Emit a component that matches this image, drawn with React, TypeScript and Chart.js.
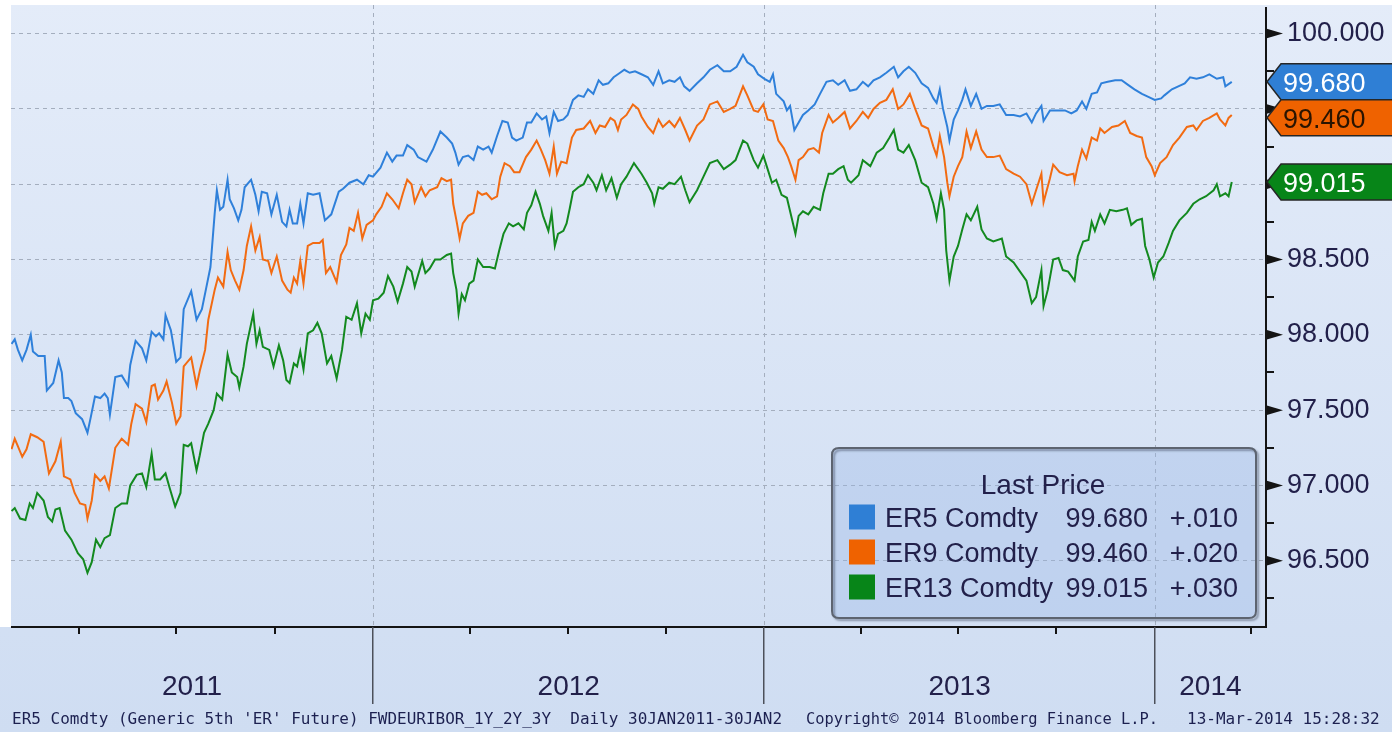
import React, { useEffect, useRef } from "react";
import { Chart, registerables } from "chart.js";

Chart.register(...registerables);

// x values are days counted from 1 Jan 2011 (day 0 = 2011-01-01)
const er5Days = [27,30,33,37,41,45,47,52,58,60,66,71,74,76,80,83,87,93,98,101,105,110,114,117,119,124,130,136,138,143,149,153,158,162,165,169,171,176,181,185,188,195,200,205,209,213,217,219,222,225,229,231,235,239,242,245,251,255,258,261,266,270,275,280,284,287,290,294,297,300,304,309,315,320,326,333,337,343,350,356,361,365,372,378,383,387,393,397,403,407,415,421,428,434,439,442,445,449,454,459,463,468,473,476,481,486,491,495,499,505,509,513,518,523,527,530,534,538,543,547,552,557,562,566,571,576,580,585,590,596,600,605,610,616,622,627,632,636,642,647,652,656,661,668,674,680,687,693,699,705,711,715,721,725,731,736,739,742,749,752,755,759,763,767,772,778,783,789,795,800,806,811,817,823,828,833,839,845,852,856,861,866,872,878,884,889,892,895,898,902,904,908,912,916,919,924,929,934,939,945,951,957,964,970,976,981,985,990,992,998,1004,1012,1018,1023,1028,1032,1037,1042,1046,1052,1059,1065,1071,1077,1084,1090,1096,1102,1105,1112,1118,1124,1129,1135,1141,1147,1154,1160,1162,1168];
const er5Values = [97.94,97.97,97.90,97.83,97.90,98.00,97.89,97.86,97.86,97.63,97.68,97.83,97.75,97.58,97.58,97.56,97.48,97.44,97.35,97.45,97.59,97.58,97.61,97.58,97.47,97.72,97.73,97.66,97.80,97.96,97.91,97.83,98.02,97.99,98.01,97.97,98.13,98.03,97.82,97.85,98.17,98.29,98.10,98.17,98.31,98.45,98.81,98.96,98.83,98.85,99.03,98.90,98.84,98.76,98.83,98.98,99.03,98.93,98.82,98.95,98.94,98.80,98.93,98.75,98.72,98.83,98.74,98.74,98.87,98.74,98.94,98.93,98.94,98.76,98.80,98.95,98.97,99.01,99.03,99.00,99.06,99.05,99.11,99.21,99.15,99.19,99.19,99.26,99.23,99.18,99.15,99.23,99.35,99.31,99.27,99.21,99.13,99.18,99.19,99.16,99.25,99.23,99.25,99.21,99.32,99.42,99.41,99.31,99.29,99.31,99.41,99.41,99.47,99.43,99.45,99.34,99.48,99.42,99.43,99.46,99.56,99.59,99.58,99.63,99.60,99.69,99.66,99.67,99.71,99.74,99.76,99.74,99.75,99.73,99.71,99.66,99.75,99.67,99.69,99.68,99.71,99.65,99.62,99.67,99.71,99.76,99.79,99.75,99.75,99.78,99.86,99.81,99.78,99.73,99.70,99.68,99.73,99.60,99.55,99.49,99.52,99.36,99.41,99.46,99.49,99.53,99.60,99.68,99.69,99.66,99.69,99.62,99.63,99.68,99.65,99.69,99.71,99.74,99.78,99.71,99.75,99.78,99.74,99.67,99.64,99.57,99.54,99.63,99.50,99.38,99.29,99.43,99.49,99.56,99.63,99.52,99.60,99.50,99.52,99.52,99.53,99.46,99.46,99.45,99.47,99.41,99.47,99.52,99.42,99.49,99.49,99.49,99.47,99.49,99.55,99.50,99.60,99.61,99.67,99.68,99.69,99.69,99.66,99.63,99.60,99.58,99.56,99.57,99.59,99.63,99.65,99.67,99.71,99.70,99.71,99.73,99.70,99.71,99.65,99.68];

const er9Days = [27,30,33,37,41,45,51,57,62,68,73,76,82,86,91,96,98,102,105,110,114,118,124,130,136,139,143,149,153,158,161,164,169,172,177,181,185,188,195,200,203,208,211,217,220,225,229,232,236,240,244,247,251,255,259,262,267,270,275,280,285,288,291,294,297,300,304,309,315,318,321,325,331,335,340,343,347,351,355,359,365,368,373,378,383,389,393,397,401,404,410,414,418,425,429,434,438,440,443,446,449,454,459,463,467,471,476,481,484,488,493,497,502,508,513,518,522,526,530,534,537,541,546,551,555,562,568,573,577,582,587,591,594,597,602,608,613,616,622,627,632,636,642,647,652,657,661,668,674,680,687,693,699,704,711,715,721,725,730,734,739,744,749,753,756,760,763,767,772,777,782,785,791,795,800,806,811,817,823,828,833,839,845,851,856,861,867,872,878,884,889,892,895,899,902,904,908,912,916,920,924,929,934,939,945,951,957,964,970,976,981,985,990,992,998,1001,1007,1014,1020,1021,1024,1028,1032,1037,1042,1045,1049,1056,1062,1068,1073,1079,1084,1088,1093,1096,1101,1107,1113,1119,1126,1132,1135,1141,1147,1154,1157,1162,1165,1168];
const er9Values = [97.24,97.31,97.26,97.19,97.24,97.34,97.32,97.29,97.08,97.16,97.29,97.06,97.04,96.95,96.88,96.87,96.78,96.90,97.07,97.03,97.06,96.98,97.25,97.31,97.27,97.41,97.54,97.51,97.42,97.66,97.67,97.57,97.63,97.69,97.55,97.41,97.46,97.79,97.85,97.66,97.76,97.90,98.10,98.30,98.38,98.32,98.55,98.43,98.36,98.30,98.43,98.59,98.72,98.56,98.65,98.50,98.49,98.41,98.52,98.36,98.30,98.28,98.38,98.34,98.49,98.34,98.59,98.61,98.61,98.63,98.41,98.45,98.35,98.53,98.60,98.71,98.69,98.81,98.64,98.73,98.76,98.80,98.85,98.94,98.90,98.84,98.94,99.03,99.00,98.88,98.98,98.92,98.96,98.98,99.04,99.02,99.03,98.87,98.76,98.64,98.74,98.79,98.81,98.95,98.93,98.94,98.90,98.92,99.05,99.14,99.12,99.08,99.08,99.18,99.23,99.29,99.23,99.16,99.07,99.25,99.07,99.15,99.14,99.31,99.36,99.37,99.42,99.34,99.39,99.38,99.44,99.42,99.36,99.43,99.46,99.53,99.50,99.45,99.38,99.34,99.43,99.38,99.42,99.38,99.44,99.36,99.29,99.39,99.43,99.53,99.55,99.48,99.50,99.52,99.65,99.59,99.49,99.48,99.53,99.43,99.42,99.29,99.24,99.18,99.12,99.03,99.16,99.18,99.23,99.24,99.21,99.34,99.46,99.41,99.44,99.48,99.37,99.42,99.48,99.44,99.50,99.54,99.56,99.63,99.50,99.53,99.60,99.50,99.39,99.37,99.25,99.19,99.32,99.18,99.01,98.92,99.05,99.12,99.18,99.35,99.24,99.35,99.23,99.18,99.18,99.19,99.10,99.07,99.05,99.00,98.87,98.96,99.07,98.88,99.04,99.13,99.08,99.06,99.07,99.02,99.12,99.23,99.17,99.31,99.29,99.37,99.34,99.38,99.39,99.42,99.34,99.32,99.31,99.18,99.12,99.06,99.14,99.18,99.26,99.31,99.38,99.39,99.36,99.42,99.44,99.47,99.43,99.39,99.44,99.46];

const er13Days = [27,30,35,40,44,47,51,57,61,65,68,72,77,83,89,94,98,102,106,110,114,119,124,130,135,138,144,149,153,158,161,166,171,175,180,185,188,192,195,200,203,207,211,216,219,224,229,233,238,240,244,247,253,256,259,262,268,272,277,281,284,287,291,294,297,300,304,309,313,317,322,326,331,336,340,345,350,354,358,362,365,370,375,379,384,388,393,397,401,404,411,414,418,423,428,434,438,440,443,445,448,451,455,459,463,468,474,479,483,487,492,496,501,506,509,513,517,521,524,529,532,535,538,543,546,549,552,557,562,566,571,574,579,583,588,593,597,602,609,616,621,626,628,632,636,642,647,653,657,661,668,674,680,687,693,699,704,711,715,721,725,730,734,738,742,747,752,756,760,763,767,772,777,783,786,791,795,800,805,809,812,819,823,830,836,842,848,852,856,861,866,872,878,884,889,892,896,899,901,904,908,912,916,920,924,930,934,939,945,953,957,964,970,976,981,985,990,992,996,1001,1006,1010,1015,1021,1024,1029,1034,1037,1040,1045,1049,1054,1060,1066,1070,1074,1079,1084,1087,1091,1095,1099,1104,1109,1113,1119,1126,1132,1138,1144,1151,1154,1157,1162,1165,1168];
const er13Values = [96.83,96.85,96.78,96.77,96.88,96.85,96.95,96.90,96.79,96.76,96.84,96.85,96.70,96.64,96.55,96.51,96.42,96.49,96.64,96.59,96.65,96.67,96.85,96.88,96.88,97.00,97.07,97.08,96.99,97.21,97.04,97.04,97.08,96.98,96.86,96.95,97.27,97.26,97.28,97.10,97.20,97.35,97.41,97.50,97.61,97.57,97.87,97.75,97.72,97.65,97.79,97.94,98.14,97.94,98.03,97.92,97.90,97.79,97.93,97.83,97.70,97.68,97.81,97.79,97.89,97.77,98.01,98.03,98.08,98.01,97.81,97.86,97.71,97.90,98.12,98.10,98.21,98.01,98.14,98.10,98.23,98.24,98.28,98.39,98.32,98.22,98.34,98.45,98.42,98.32,98.49,98.41,98.44,98.50,98.50,98.53,98.54,98.41,98.30,98.14,98.27,98.23,98.34,98.36,98.50,98.45,98.45,98.44,98.56,98.67,98.74,98.72,98.74,98.70,98.81,98.86,98.95,98.87,98.79,98.69,98.81,98.59,98.67,98.69,98.74,98.84,98.95,98.98,99.00,99.06,99.01,98.96,99.06,98.96,99.04,98.91,99.00,99.05,99.14,99.07,99.01,98.94,98.87,98.98,98.97,99.01,99.00,99.05,98.96,98.88,98.96,99.05,99.14,99.16,99.10,99.13,99.16,99.29,99.27,99.16,99.11,99.19,99.10,99.01,99.03,98.93,98.91,98.79,98.67,98.79,98.82,98.80,98.85,98.83,98.94,99.07,99.07,99.10,99.12,99.03,99.01,99.06,99.16,99.12,99.21,99.24,99.31,99.36,99.23,99.21,99.26,99.16,99.01,98.98,98.87,98.77,98.94,98.83,98.56,98.36,98.52,98.59,98.70,98.80,98.76,98.85,98.70,98.64,98.62,98.64,98.52,98.48,98.42,98.36,98.21,98.25,98.43,98.19,98.30,98.50,98.51,98.43,98.42,98.36,98.52,98.62,98.63,98.75,98.69,98.80,98.74,98.83,98.82,98.83,98.84,98.73,98.76,98.77,98.59,98.50,98.38,98.48,98.52,98.61,98.69,98.76,98.81,98.87,98.90,98.92,98.96,99.00,98.92,98.94,98.92,99.015];

const seriesNames = ["ER5 Comdty", "ER9 Comdty", "ER13 Comdty"];
const lastPrices = [99.68, 99.46, 99.015];
const netChanges = ["+.010", "+.020", "+.030"];
const yTickValues = [96.5, 97, 97.5, 98, 98.5, 99, 99.5, 100];
const yMinorTickValues = [96.25, 96.75, 97.25, 97.75, 98.25, 98.75, 99.25, 99.75];
const yearStartDays = [365, 731, 1096]; // 1 Jan 2012, 2013, 2014
const yearLabels = ["2011", "2012", "2013", "2014"];
const quarterTickDays = [90, 181, 273, 456, 547, 639, 821, 912, 1004, 1186];
const footerParts = [
  "ER5 Comdty (Generic 5th 'ER' Future) FWDEURIBOR_1Y_2Y_3Y  Daily 30JAN2011-30JAN2",
  "Copyright\u00A9 2014 Bloomberg Finance L.P.",
  "13-Mar-2014 15:28:32",
];

const X_MIN = 26.5;
const X_MAX = 1200;
const Y_MIN = 96.06;
const Y_MAX = 100.19;

const lineColors = ["#2f80da", "#f26b12", "#13891f"];
const tagColors = ["#2f7fd5", "#ef6200", "#078518"];
const tagTextColors = ["#ffffff", "#2a1400", "#ffffff"];
const FONT = "'Liberation Sans', Arial, sans-serif";
const TEXT_COLOR = "#22204a";

function roundRectPath(ctx: CanvasRenderingContext2D, x: number, y: number, w: number, h: number, r: number) {
  ctx.beginPath();
  ctx.moveTo(x + r, y);
  ctx.lineTo(x + w - r, y);
  ctx.quadraticCurveTo(x + w, y, x + w, y + r);
  ctx.lineTo(x + w, y + h - r);
  ctx.quadraticCurveTo(x + w, y + h, x + w - r, y + h);
  ctx.lineTo(x + r, y + h);
  ctx.quadraticCurveTo(x, y + h, x, y + h - r);
  ctx.lineTo(x, y + r);
  ctx.quadraticCurveTo(x, y, x + r, y);
  ctx.closePath();
}

const decorPlugin = {
  id: "bloombergDecor",
  beforeDraw(chart: any) {
    const { ctx, width, height, chartArea } = chart;
    ctx.save();
    const g = ctx.createLinearGradient(0, 0, 0, height);
    g.addColorStop(0, "#e4ecf9");
    g.addColorStop(1, "#cfddf2");
    ctx.fillStyle = g;
    ctx.fillRect(0, 0, width, height);
    ctx.fillStyle = "#ffffff";
    ctx.fillRect(0, 0, chartArea.left, chartArea.bottom);
    ctx.fillRect(0, 0, width, chartArea.top);
    ctx.restore();
  },
  beforeDatasetsDraw(chart: any) {
    const { ctx, chartArea } = chart;
    const xs = chart.scales.x;
    ctx.save();
    ctx.strokeStyle = "#a4aebe";
    ctx.lineWidth = 1;
    ctx.setLineDash([4, 4]);
    yearStartDays.forEach((d) => {
      const px = Math.round(xs.getPixelForValue(d)) + 0.5;
      ctx.beginPath();
      ctx.moveTo(px, chartArea.top);
      ctx.lineTo(px, chartArea.bottom);
      ctx.stroke();
    });
    ctx.restore();
  },
  afterDraw(chart: any) {
    const { ctx, chartArea, width } = chart;
    const xs = chart.scales.x;
    const ys = chart.scales.y;
    const { left, right, top, bottom } = chartArea;
    ctx.save();

    // axis lines
    ctx.fillStyle = "#141414";
    ctx.fillRect(right - 1, top + 2, 2, bottom - top - 1);
    ctx.fillRect(left, bottom - 1, right - left + 1, 2);

    // major tick markers (triangles) and minor ticks on the price axis
    yTickValues.forEach((v) => {
      const py = ys.getPixelForValue(v);
      ctx.beginPath();
      ctx.moveTo(right, py - 5);
      ctx.lineTo(right + 17, py);
      ctx.lineTo(right, py + 5);
      ctx.closePath();
      ctx.fill();
    });
    yMinorTickValues.forEach((v) => {
      const py = Math.round(ys.getPixelForValue(v));
      ctx.fillRect(right, py - 1, 8, 2);
    });

    // time axis ticks
    quarterTickDays.forEach((d) => {
      const px = Math.round(xs.getPixelForValue(d));
      ctx.fillRect(px - 1, bottom, 2, 7);
    });
    ctx.fillStyle = "#4c505a";
    yearStartDays.forEach((d) => {
      const px = Math.round(xs.getPixelForValue(d));
      ctx.fillRect(px - 1, bottom, 1.5, 77);
    });

    // year labels centred between year boundaries
    const bounds = [X_MIN, ...yearStartDays, X_MAX];
    ctx.fillStyle = TEXT_COLOR;
    ctx.font = `28px ${FONT}`;
    ctx.textAlign = "center";
    ctx.textBaseline = "alphabetic";
    yearLabels.forEach((lab, i) => {
      const cx = (xs.getPixelForValue(bounds[i]) + xs.getPixelForValue(bounds[i + 1])) / 2;
      ctx.fillText(lab, cx, 695);
    });

    // legend box
    const lx = 832, ly = 448, lw = 424, lh = 170;
    roundRectPath(ctx, lx, ly, lw, lh, 7);
    ctx.fillStyle = "rgba(150,180,230,0.32)";
    ctx.fill();
    ctx.save();
    ctx.shadowColor = "rgba(40,50,70,0.45)";
    ctx.shadowOffsetX = 2;
    ctx.shadowOffsetY = 2;
    ctx.shadowBlur = 2;
    ctx.strokeStyle = "#5d6470";
    ctx.lineWidth = 2;
    roundRectPath(ctx, lx, ly, lw, lh, 7);
    ctx.stroke();
    ctx.restore();

    ctx.fillStyle = TEXT_COLOR;
    ctx.font = `28px ${FONT}`;
    ctx.textAlign = "center";
    ctx.fillText("Last Price", 1043, 494);
    ctx.font = `27px ${FONT}`;
    const rowCenters = [517, 552, 587];
    seriesNames.forEach((name, i) => {
      const cy = rowCenters[i];
      ctx.fillStyle = tagColors[i];
      ctx.fillRect(849, cy - 12.5, 26, 25);
      ctx.fillStyle = TEXT_COLOR;
      ctx.textAlign = "left";
      ctx.fillText(name, 885, cy + 10);
      ctx.textAlign = "right";
      ctx.fillText(lastPrices[i].toFixed(3), 1148, cy + 10);
      ctx.fillText(netChanges[i], 1238, cy + 10);
    });

    // last-value tags on the price axis
    const tagH = 36;
    const order = lastPrices
      .map((v, i) => ({ i, y: ys.getPixelForValue(v) }))
      .sort((a, b) => a.y - b.y);
    let prevBottom = -1e9;
    order.forEach(({ i, y }) => {
      let cy = y;
      if (cy - tagH / 2 < prevBottom) cy = prevBottom + tagH / 2;
      prevBottom = cy + tagH / 2;
      ctx.beginPath();
      ctx.moveTo(right + 1, cy);
      ctx.lineTo(right + 15, cy - tagH / 2);
      ctx.lineTo(width + 2, cy - tagH / 2);
      ctx.lineTo(width + 2, cy + tagH / 2);
      ctx.lineTo(right + 15, cy + tagH / 2);
      ctx.closePath();
      ctx.fillStyle = tagColors[i];
      ctx.fill();
      ctx.strokeStyle = "#262626";
      ctx.lineWidth = 1.5;
      ctx.stroke();
      ctx.fillStyle = tagTextColors[i];
      ctx.font = `27px ${FONT}`;
      ctx.textAlign = "left";
      ctx.fillText(lastPrices[i].toFixed(3), right + 17, cy + 10);
    });

    // footer
    ctx.fillStyle = "#1c2050";
    ctx.font = `16px 'DejaVu Sans Mono', monospace`;
    ctx.textAlign = "left";
    ctx.fillText(footerParts[0], 12, 724, 770);
    ctx.fillText(footerParts[1], 806, 724, 352);
    ctx.fillText(footerParts[2], 1187, 724, 198);

    ctx.restore();
  },
};

export default function App() {
  const canvasRef = useRef<HTMLCanvasElement | null>(null);

  useEffect(() => {
    document.body.style.margin = "0";
    const canvas = canvasRef.current;
    if (!canvas) return;
    const toPoints = (days: number[], vals: number[]) => days.map((d, i) => ({ x: d, y: vals[i] }));
    const chart = new Chart(canvas, {
      type: "line",
      data: {
        datasets: [
          { label: seriesNames[0], data: toPoints(er5Days, er5Values), borderColor: lineColors[0], borderWidth: 2, pointRadius: 0, tension: 0, fill: false },
          { label: seriesNames[1], data: toPoints(er9Days, er9Values), borderColor: lineColors[1], borderWidth: 2, pointRadius: 0, tension: 0, fill: false },
          { label: seriesNames[2], data: toPoints(er13Days, er13Values), borderColor: lineColors[2], borderWidth: 2, pointRadius: 0, tension: 0, fill: false },
        ],
      },
      options: {
        animation: false,
        responsive: false,
        devicePixelRatio: 1,
        events: [],
        layout: { padding: { left: 11, top: 5, right: 0, bottom: 105 }, autoPadding: false },
        plugins: { legend: { display: false }, tooltip: { enabled: false } },
        scales: {
          x: { type: "linear", min: X_MIN, max: X_MAX, display: false },
          y: {
            type: "linear",
            position: "right",
            min: Y_MIN,
            max: Y_MAX,
            afterBuildTicks: (s: any) => {
              s.ticks = yTickValues.map((v) => ({ value: v }));
            },
            afterFit: (s: any) => {
              s.width = 126;
              s.paddingTop = 0;
              s.paddingBottom = 0;
            },
            grid: { color: "#a4aebe", lineWidth: 1, drawTicks: false },
            border: { display: false, dash: [4, 4] },
            ticks: {
              padding: 21,
              autoSkip: false,
              color: TEXT_COLOR,
              font: { family: FONT, size: 27 },
              callback: (v: any) =>
                lastPrices.some((p) => Math.abs(p - Number(v)) < 0.15) ? "" : Number(v).toFixed(3),
            },
          },
        },
      } as any,
      plugins: [decorPlugin],
    });
    return () => chart.destroy();
  }, []);

  return (
    <div style={{ position: "fixed", left: 0, top: 0, width: 1392, height: 732, overflow: "hidden" }}>
      <canvas ref={canvasRef} width={1392} height={732} style={{ display: "block", width: 1392, height: 732 }} />
    </div>
  );
}
